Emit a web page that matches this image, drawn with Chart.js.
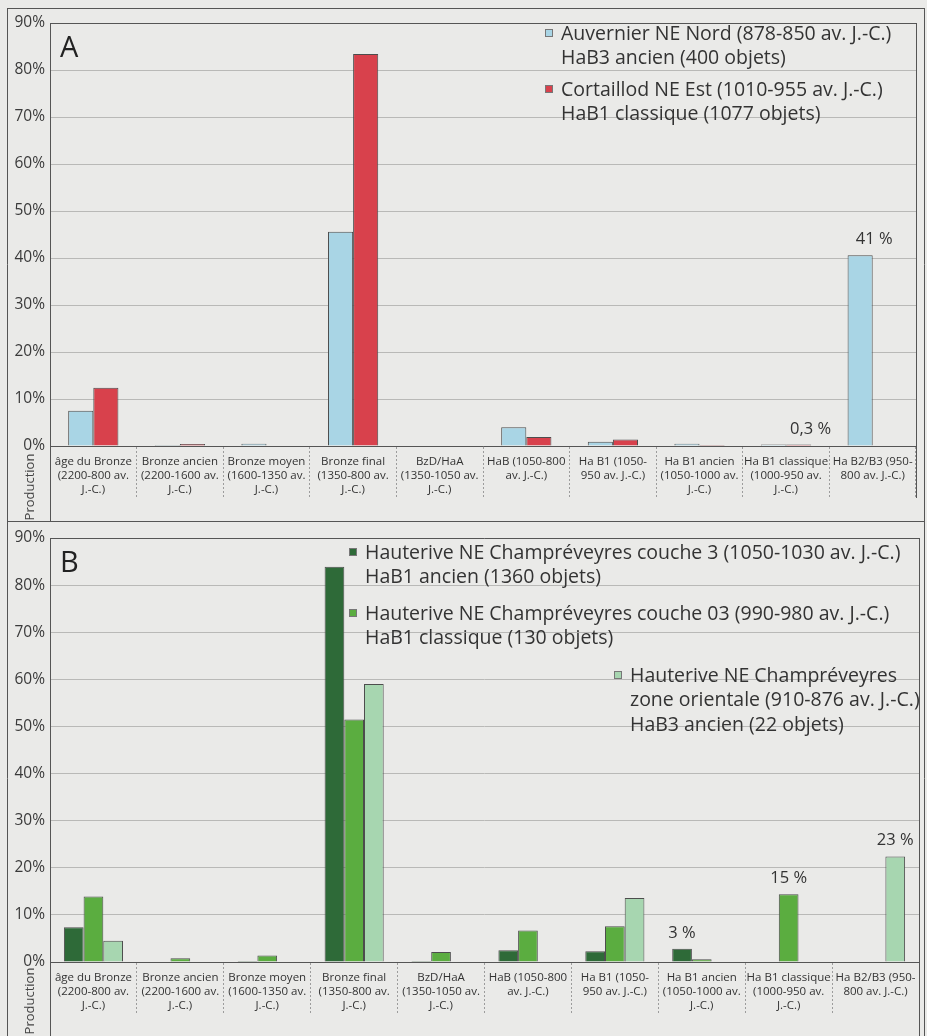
<!DOCTYPE html>
<html>
<head>
<meta charset="utf-8">
<script src="https://cdn.jsdelivr.net/npm/chart.js@4"></script>
<style>
  html, body { margin: 0; padding: 0; background: #eaeae8; }
  .wrap { position: absolute; left: 0; width: 927px; }
</style>
</head>
<body>
<div class="wrap" style="top:0;height:521px"><canvas id="chartA"></canvas></div>
<div class="wrap" style="top:521px;height:515px"><canvas id="chartB"></canvas></div>
<script>
// categories (periods), one multi-line label each
const categories = [
  ['âge du Bronze', '(2200-800 av.', 'J.-C.)'],
  ['Bronze ancien', '(2200-1600 av.', 'J.-C.)'],
  ['Bronze moyen', '(1600-1350 av.', 'J.-C.)'],
  ['Bronze final', '(1350-800 av.', 'J.-C.)'],
  ['BzD/HaA', '(1350-1050 av.', 'J.-C.)'],
  ['HaB (1050-800', 'av. J.-C.)'],
  ['Ha B1 (1050-', '950 av. J.-C.)'],
  ['Ha B1 ancien', '(1050-1000 av.', 'J.-C.)'],
  ['Ha B1 classique', '(1000-950 av.', 'J.-C.)'],
  ['Ha B2/B3 (950-', '800 av. J.-C.)']
];
const yMax = 90;
const yStep = 10;

// panel A (% of objects per period)
const auvernier  = [7.5, 0.2, 0.5, 45.6, 0, 4.0, 0.9, 0.5, 0.3, 40.6];
const cortaillod = [12.4, 0.4, 0.1, 83.4, 0.1, 1.9, 1.4, 0.2, 0.3, 0];
const legendA = [
  ['Auvernier NE Nord (878-850 av. J.-C.)', 'HaB3 ancien (400 objets)'],
  ['Cortaillod NE Est (1010-955 av. J.-C.)', 'HaB1 classique (1077 objets)']
];
const notesA = [[0, 9, '41 %'], [1, 8, '0,3 %']];

// panel B
const couche3       = [7.4, 0, 0.2, 83.9, 0.2, 2.5, 2.3, 2.8, 0, 0];
const couche03      = [13.9, 0.8, 1.4, 51.5, 2.1, 6.7, 7.6, 0.6, 14.4, 0];
const zoneOrientale = [4.5, 0, 0, 59.0, 0, 0, 13.6, 0, 0, 22.4];
const legendB = [
  ['Hauterive NE Champréveyres couche 3 (1050-1030 av. J.-C.)', 'HaB1 ancien (1360 objets)'],
  ['Hauterive NE Champréveyres couche 03 (990-980 av. J.-C.)', 'HaB1 classique (130 objets)'],
  ['Hauterive NE Champréveyres', 'zone orientale (910-876 av. J.-C.)', 'HaB3 ancien (22 objets)']
];
const notesB = [[0, 7, '3 %'], [1, 8, '15 %'], [2, 9, '23 %']];

const FONT = '"Open Sans", "Noto Sans", sans-serif';
const INK = '#333';

const panelPlugin = {
  id: 'panel',
  afterDraw(chart, args, o) {
    const { ctx, chartArea: a } = chart;
    const W = chart.width, H = chart.height;
    ctx.save();
    ctx.strokeStyle = '#555';
    ctx.lineWidth = 1;
    ctx.beginPath();
    // outer frame
    ctx.moveTo(7.5, o.outerTop + 0.5); ctx.lineTo(W - 2.5, o.outerTop + 0.5);
    ctx.moveTo(7.5, o.outerTop); ctx.lineTo(7.5, H);
    ctx.moveTo(W - 2.5, o.outerTop); ctx.lineTo(W - 2.5, H);
    // plot frame
    ctx.moveTo(a.left, a.top + 0.5); ctx.lineTo(a.right, a.top + 0.5);
    ctx.moveTo(a.left + 0.5, a.top); ctx.lineTo(a.left + 0.5, H);
    ctx.moveTo(a.right + 0.5, a.top); ctx.lineTo(a.right + 0.5, o.rightBottom);
    ctx.stroke();

    // panel letter
    ctx.fillStyle = '#222';
    ctx.font = '29px ' + FONT;
    ctx.textBaseline = 'middle';
    ctx.textAlign = 'left';
    ctx.fillText(o.letter, a.left + 10, a.top + 26);

    // side label
    ctx.save();
    ctx.translate(30, o.prodY);
    ctx.rotate(-Math.PI / 2);
    ctx.textAlign = 'center';
    ctx.font = '13px ' + FONT;
    ctx.fillStyle = '#444';
    ctx.fillText('Production', 0, 0);
    ctx.restore();

    // legend
    ctx.font = '19.5px ' + FONT;
    ctx.textAlign = 'left';
    o.legend.forEach((lines, k) => {
      const p = o.legendPos[k];
      const ds = chart.data.datasets[k];
      ctx.fillStyle = ds.backgroundColor;
      ctx.fillRect(p[0], p[1] - 4, 8, 8);
      ctx.strokeStyle = '#777';
      ctx.strokeRect(p[0] + 0.5, p[1] - 3.5, 7, 7);
      ctx.fillStyle = INK;
      lines.forEach((t, j) => ctx.fillText(t, p[0] + 16, p[1] + 1 + j * 24.5));
    });

    // value notes
    ctx.font = '16.5px ' + FONT;
    ctx.textAlign = 'center';
    ctx.textBaseline = 'alphabetic';
    o.notes.forEach(([d, i, t], k) => {
      const bar = chart.getDatasetMeta(d).data[i];
      const dx = (o.noteDx && o.noteDx[k]) || 0;
      ctx.fillText(t, bar.x + dx, bar.y - 11);
    });
    ctx.restore();
  }
};

function makeChart(id, datasets, catPct, pad, xHeight, panel) {
  return new Chart(document.getElementById(id), {
    type: 'bar',
    data: {
      labels: categories,
      datasets: datasets.map(d => ({
        label: d.label,
        data: d.data,
        backgroundColor: d.color,
        borderColor: '#4d4d4d',
        borderWidth: 1,
        categoryPercentage: catPct,
        barPercentage: 1
      }))
    },
    options: {
      responsive: true,
      maintainAspectRatio: false,
      animation: false,
      layout: { padding: pad },
      plugins: { legend: { display: false }, tooltip: { enabled: false }, panel: panel },
      scales: {
        x: {
          grid: {
            offset: true,
            drawOnChartArea: false,
            tickLength: 52,
            tickColor: '#9c9c9c',
            tickBorderDash: [2, 2],
            tickWidth: 1
          },
          border: { display: true, color: '#555', width: 1 },
          ticks: {
            padding: -43,
            maxRotation: 0,
            autoSkip: false,
            color: '#333',
            font: { family: FONT, size: 11.5, lineHeight: 1.22 }
          },
          afterFit: s => { s.height = xHeight; }
        },
        y: {
          min: 0,
          max: yMax,
          ticks: {
            stepSize: yStep,
            padding: 5,
            color: '#3a3a3a',
            font: { family: FONT, size: 15.5 },
            callback: v => v + '%'
          },
          grid: { color: '#b9b9b7', drawTicks: false },
          border: { display: false },
          afterFit: s => { s.width = 50; }
        }
      }
    },
    plugins: [panelPlugin]
  });
}

makeChart('chartA', [
  { label: legendA[0].join(' '), data: auvernier, color: '#a9d5e5' },
  { label: legendA[1].join(' '), data: cortaillod, color: '#d8414c' }
], 0.58, { top: 23, right: 11, left: 0, bottom: 0 }, 75, {
  letter: 'A', outerTop: 8, rightBottom: 498, prodY: 487,
  legend: legendA, legendPos: [[545, 33], [545, 89]],
  notes: notesA, noteDx: [14, 12]
});

makeChart('chartB', [
  { label: legendB[0].join(' '), data: couche3, color: '#2e6a38' },
  { label: legendB[1].join(' '), data: couche03, color: '#5bad40' },
  { label: legendB[2].join(' '), data: zoneOrientale, color: '#a7d6b0' }
], 0.68, { top: 17, right: 8, left: 0, bottom: 0 }, 74, {
  letter: 'B', outerTop: 0, rightBottom: 515, prodY: 480,
  legend: legendB, legendPos: [[349, 31], [349, 92], [614, 154]],
  notes: notesB
});
</script>
</body>
</html>
